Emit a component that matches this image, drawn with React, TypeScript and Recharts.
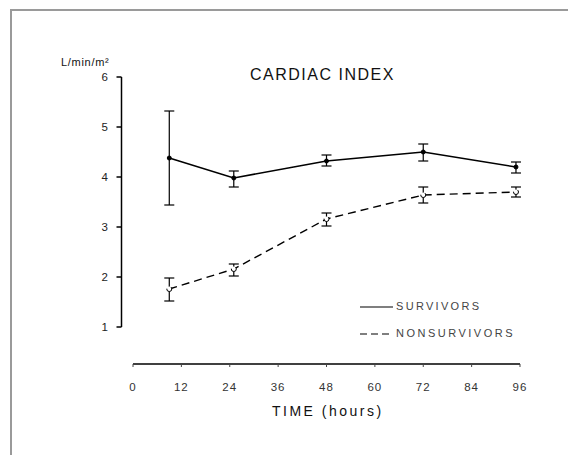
import { LineChart, Line, XAxis, YAxis, ErrorBar } from 'recharts'

const hours = [9, 25, 48, 72, 95]
const survivors = [4.38, 3.98, 4.32, 4.5, 4.2]
const survivorsLow = [3.44, 3.8, 4.22, 4.32, 4.08]
const survivorsHigh = [5.32, 4.12, 4.44, 4.66, 4.3]
const nonsurvivors = [1.76, 2.16, 3.16, 3.64, 3.7]
const nonsurvivorsLow = [1.52, 2.02, 3.02, 3.48, 3.6]
const nonsurvivorsHigh = [1.98, 2.26, 3.28, 3.8, 3.8]
const xTicks = [0, 12, 24, 36, 48, 60, 72, 84, 96]
const yTicks = [1, 2, 3, 4, 5, 6]

const data = hours.map((h, i) => ({
  hour: h,
  surv: survivors[i],
  survErr: [survivors[i] - survivorsLow[i], survivorsHigh[i] - survivors[i]],
  non: nonsurvivors[i],
  nonErr: [nonsurvivors[i] - nonsurvivorsLow[i], nonsurvivorsHigh[i] - nonsurvivors[i]]
}))

const font = '"Liberation Sans", Arial, sans-serif'

const XTick = ({ x, y, payload }: any) => (
  <g>
    <line x1={x} x2={x} y1={y + 37} y2={y + 40} stroke="#444" strokeWidth={1} />
    <text
      x={x}
      y={y + 64}
      textAnchor="middle"
      fontSize={11.5}
      fontFamily={font}
      letterSpacing={1}
      fill="#333"
    >
      {payload.value}
    </text>
  </g>
)

const textStyle = {
  position: 'absolute' as const,
  fontFamily: font,
  color: '#111',
  whiteSpace: 'nowrap' as const,
  lineHeight: 1
}

export default function App() {
  return (
    <>
      <div
        style={{
          position: 'absolute',
          left: 10,
          top: 9,
          width: 556,
          height: 444,
          borderLeft: '2px solid #9a9a9a',
          borderTop: '2px solid #9a9a9a'
        }}
      />
      <div style={{ position: 'absolute', left: 0, top: 0, width: 568, height: 455 }}>
        <LineChart
          width={568}
          height={455}
          data={data}
          margin={{ top: 77, right: 48, left: 73, bottom: 68 }}
        >
          <XAxis
            dataKey="hour"
            type="number"
            domain={[0, 96]}
            ticks={xTicks}
            height={60}
            tickSize={0}
            tickMargin={0}
            tickLine={false}
            axisLine={{ stroke: '#000', strokeWidth: 1.5, transform: 'translate(0,37)' }}
            tick={<XTick />}
          />
          <YAxis
            type="number"
            domain={[1, 6]}
            ticks={yTicks}
            width={60}
            tickSize={5}
            tickMargin={20}
            axisLine={{ stroke: '#000', strokeWidth: 1.5, transform: 'translate(-11.5,0)' }}
            tickLine={{ stroke: '#000', strokeWidth: 1.5, transform: 'translate(-11.5,0)' }}
            tick={{ fontSize: 11.5, fontFamily: font, fill: '#222' }}
          />
          <Line
            dataKey="surv"
            type="linear"
            stroke="#000"
            strokeWidth={1.6}
            dot={{ r: 2, fill: '#000', stroke: '#000', strokeWidth: 1 }}
            isAnimationActive={false}
          >
            <ErrorBar dataKey="survErr" width={5} stroke="#000" strokeWidth={1.2} direction="y" />
          </Line>
          <Line
            dataKey="non"
            type="linear"
            stroke="#000"
            strokeWidth={1.4}
            strokeDasharray="8 5"
            dot={{ r: 2.5, fill: '#fff', stroke: '#000', strokeWidth: 1 }}
            isAnimationActive={false}
          >
            <ErrorBar dataKey="nonErr" width={5} stroke="#000" strokeWidth={1.2} direction="y" />
          </Line>
        </LineChart>
      </div>
      <div style={{ ...textStyle, left: 61, top: 57, fontSize: 11, letterSpacing: 0.7 }}>
        L/min/m²
      </div>
      <div style={{ ...textStyle, left: 250, top: 67, fontSize: 16, letterSpacing: 1.5 }}>
        CARDIAC INDEX
      </div>
      <div style={{ ...textStyle, left: 272, top: 404, fontSize: 14, letterSpacing: 2.5 }}>
        TIME (hours)
      </div>
      <div style={{ ...textStyle, left: 360, top: 301, fontSize: 11, letterSpacing: 2.3, color: '#444', display: 'flex', alignItems: 'center' }}>
        <svg width={34} height={10}>
          <line x1={0} x2={33} y1={5} y2={5} stroke="#000" strokeWidth={1.2} />
        </svg>
        <span style={{ marginLeft: 2 }}>SURVIVORS</span>
      </div>
      <div style={{ ...textStyle, left: 360, top: 328, fontSize: 11, letterSpacing: 2.5, color: '#444', display: 'flex', alignItems: 'center' }}>
        <svg width={34} height={10}>
          <line x1={0} x2={33} y1={5} y2={5} stroke="#000" strokeWidth={1.2} strokeDasharray="7 4" />
        </svg>
        <span style={{ marginLeft: 2 }}>NONSURVIVORS</span>
      </div>
    </>
  )
}
